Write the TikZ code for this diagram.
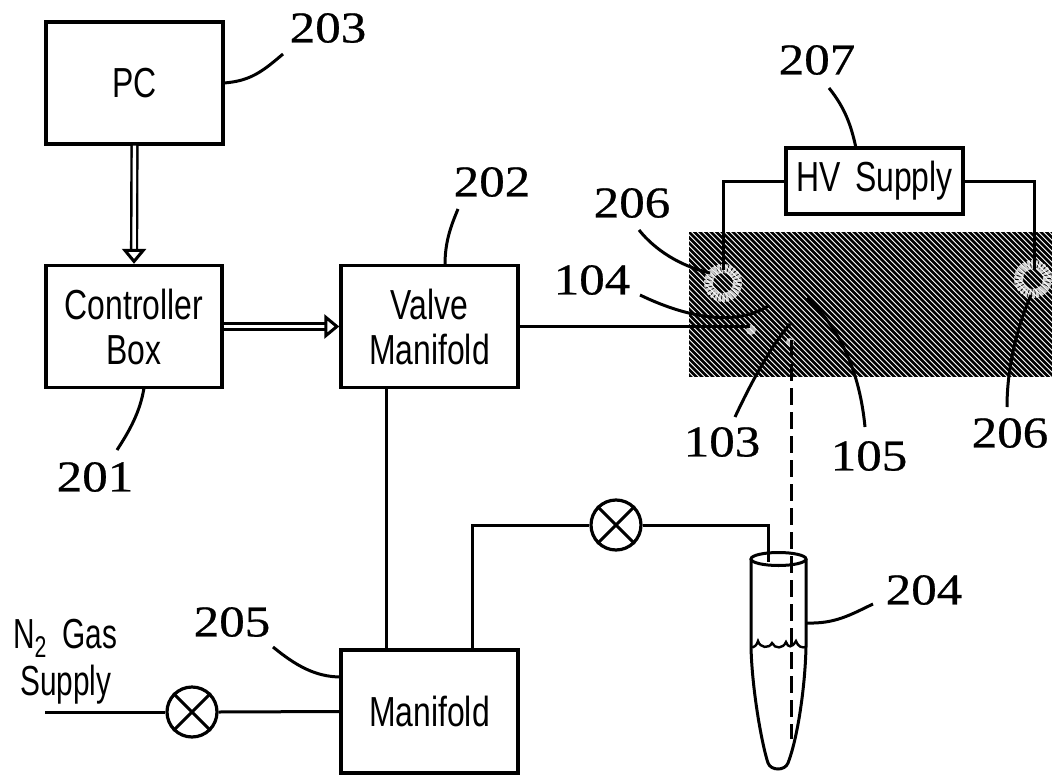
\documentclass[tikz,border=0pt]{standalone}
\usepackage{fontspec}
\usetikzlibrary{arrows.meta,calc}
\newfontfamily\boxfont[FakeStretch=0.76]{Liberation Sans}
\newfontfamily\gasfont[FakeStretch=0.71]{Liberation Sans}
\newfontfamily\numfont[FakeStretch=1.16,FakeBold=0.6]{Liberation Serif}
\tikzset{
  x=1pt,y=-1pt,
  blk/.style={draw,line width=3.4pt,rectangle,inner sep=0pt,align=center,font=\boxfont\fontsize{42}{45}\selectfont},
  num/.style={inner sep=0pt,font=\numfont\fontsize{44}{44}\selectfont},
  wire/.style={line width=3pt},
  leader/.style={line width=3pt},
  fat/.style={line width=2.4pt,double,double distance=3.4pt,-{Triangle[open,length=15pt,width=24pt,line width=3pt,fill=white]}},
  valve/.style={draw,circle,line width=3.2pt,minimum size=50pt,inner sep=0pt},
  ring/.style={draw=white,line width=9pt,draw opacity=.8,dash pattern=on 2.5pt off 1pt},
  txt/.style={inner sep=0pt,font=\gasfont\fontsize{42}{45}\selectfont}
}
\begin{document}
\begin{tikzpicture}
\useasboundingbox (0,0) rectangle (1052,776);
% hatched panel
\begin{scope}
\clip (689,232) rectangle (1052,376);
\foreach \k in {0,...,96}{
  \draw[line width=2.7pt] (540+5.5*\k,226) -- (540+5.5*\k+160,386);
}
\draw[ring] (723,283) circle (14.5);
\draw[ring] (1033,279) circle (14.5);
\fill[white,opacity=.7] (751,330) circle (5);
\fill[white,opacity=.7] (790,342) circle (4);
\end{scope}
\coordinate (panelL) at (723,270);
\coordinate (panelR) at (1034,270);
\coordinate (inlet) at (750,326.5);
% boxes
\node[blk,minimum width=177pt,minimum height=122pt] (pc) at (134.5,83) {PC};
\node[blk,minimum width=176pt,minimum height=122pt] (ctrl) at (134,326.5) {Controller\\Box};
\node[blk,minimum width=177pt,minimum height=122pt] (vm) at (429.5,326.5) {Valve\\Manifold};
\node[blk,minimum width=177pt,minimum height=123pt] (man) at (429.5,711.5) {Manifold};
\node[blk,minimum width=177pt,minimum height=66pt] (hv) at (874.5,181) {HV\hspace{.35em}Supply};
\node[valve] (v1) at (192,712) {};
\node[valve] (v2) at (616,525) {};
\draw[line width=3pt] (v1.north west)--(v1.south east) (v1.north east)--(v1.south west);
\draw[line width=3pt] (v2.north west)--(v2.south east) (v2.north east)--(v2.south west);
% connectors
\draw[fat] (pc.south) -- (ctrl.north);
\draw[fat] (ctrl.east) -- (vm.west);
\draw[wire] (vm.east) -- (inlet);
\draw[wire] ([xshift=-43pt]vm.south) -- ([xshift=-43pt]man.north);
\coordinate (gas) at (45,712);
\draw[wire] (gas) -- (v1.west);
\draw[wire] (v1.east) -- (man.west);
\coordinate (tubein) at (768,562);
\draw[wire] ([xshift=42.5pt]man.north) |- (v2.west);
\draw[wire] (v2.east) -| (tubein);
\draw[wire] (hv.west) -| (panelL);
\draw[wire] (hv.east) -| (panelR);
% tube
\coordinate (tl) at (751,559);
\coordinate (tr) at (806,559);
\draw[wire] (778.5,559) ellipse (27.5 and 6.5);
\draw[wire] (tl) -- (751,647) .. controls (752,690) and (762,745) .. (768,763) .. controls (771,771) and (785,771) .. (788,763) .. controls (797,740) and (805,690) .. (806,647) -- (tr);
\draw[line width=2.4pt] (751,647) .. controls (754,648) and (757,645) .. (758,641) .. controls (760,648) and (769,649) .. (772,643) .. controls (775,649) and (783,649) .. (786,642) .. controls (788,648) and (792,648) .. (796,641) .. controls (798,647) and (802,648) .. (806,647);
\coordinate (dtop) at (791,340);
\coordinate (dbot) at (791,739);
\draw[line width=3pt,dash pattern=on 17pt off 7pt] (dtop) -- (dbot);
% labels
\node[num] (n203) at (328,28) {203};
\node[num] (n207) at (817,60) {207};
\node[num] (n202) at (492,182) {202};
\node[num] (n206a) at (632,203) {206};
\node[num] (n104) at (592,280) {104};
\node[num] (n103) at (722,442) {103};
\node[num] (n105) at (869,456) {105};
\node[num] (n206b) at (1010,433) {206};
\node[num] (n201) at (95,477) {201};
\node[num] (n204) at (924,590) {204};
\node[num] (n205) at (232,622) {205};
\node[txt,anchor=base west] (gaslab) at (13,648) {N\raisebox{-9pt}{\fontsize{30}{30}\selectfont 2}\hspace{.38em}Gas};
\node[txt,anchor=base west] (suplab) at (20,695) {Supply};
% leaders
\draw[leader] (224,83) .. controls (250,81) and (262,72) .. (283,54);
\draw[leader] (829,88) .. controls (845,108) and (851,125) .. (856,148);
\draw[leader] (445,265) .. controls (445,243) and (450,228) .. (458,209);
\draw[leader] (639,230) .. controls (655,250) and (680,266) .. (710,273);
\draw[leader] (640,295) .. controls (675,312) and (730,330) .. (768,306);
\draw[leader] (735,417) .. controls (750,385) and (770,347) .. (790,324);
\draw[leader] (865,427) .. controls (860,375) and (842,330) .. (807,298);
\draw[leader] (1007,407) .. controls (1007,365) and (1018,325) .. (1031,295);
\draw[leader] (144,388) .. controls (140,412) and (130,430) .. (117,450);
\draw[leader] (806,623) .. controls (835,624) and (850,615) .. (873,604);
\draw[leader] (273,647) .. controls (295,665) and (315,677) .. (341,677);
\end{tikzpicture}
\end{document}
